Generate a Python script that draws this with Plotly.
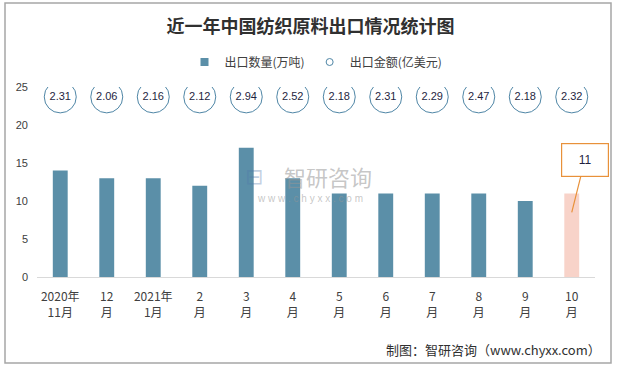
import plotly.graph_objects as go

categories = ["2020年<br>11月", "12<br>月", "2021年<br>1月", "2<br>月", "3<br>月", "4<br>月",
              "5<br>月", "6<br>月", "7<br>月", "8<br>月", "9<br>月", "10<br>月"]
quantity = [14, 13, 13, 12, 17, 13, 11, 11, 11, 11, 10, 11]
amount = [2.31, 2.06, 2.16, 2.12, 2.94, 2.52, 2.18, 2.31, 2.29, 2.47, 2.18, 2.32]
y_ticks = [0, 5, 10, 15, 20, 25]

BAR = "#5B8FA8"
HIGHLIGHT = "#F8D3C9"
CIRCLE = "#4F86A6"
FONT = "Noto Sans CJK SC"

bar_colors = [BAR] * (len(quantity) - 1) + [HIGHLIGHT]
label_row = [23.7] * len(amount)

fig = go.Figure()
fig.add_trace(go.Bar(
    x=categories, y=quantity, name="出口数量(万吨)", showlegend=False,
    marker=dict(color=bar_colors, line=dict(width=0)),
))
fig.add_trace(go.Scatter(
    x=categories, y=label_row, name="出口金额(亿美元)", mode="markers+text", showlegend=False,
    text=[f"{v:.2f}" for v in amount], textposition="middle center",
    textfont=dict(size=11, color="#1F1F3F", family="Liberation Sans"),
    marker=dict(symbol="circle", size=32, color="rgba(255,255,255,0)",
                line=dict(color=CIRCLE, width=1)),
))
# legend proxies
fig.add_trace(go.Scatter(x=[None], y=[None], mode="markers", name="出口数量(万吨)",
                         marker=dict(symbol="square", size=8, color=BAR)))
fig.add_trace(go.Scatter(x=[None], y=[None], mode="markers", name="出口金额(亿美元)",
                         marker=dict(symbol="circle-open", size=7, color=CIRCLE, line=dict(width=1))))

fig.update_layout(
    width=621, height=368,
    margin=dict(l=37, r=26, t=87, b=91, autoexpand=False),
    paper_bgcolor="white", plot_bgcolor="white",
    bargap=0.68,
    font=dict(family=FONT, color="#404040", size=12),
    title=dict(text="<b>近一年中国纺织原料出口情况统计图</b>", x=0.5, xanchor="center",
               y=1 - 27 / 368, yanchor="middle", yref="container",
               font=dict(size=18, color="#303030", family=FONT)),
    legend=dict(orientation="h", x=0.5, xanchor="center", y=(277 - 62) / 190, yref="paper",
                yanchor="middle", font=dict(size=12, color="#404040"),
                itemwidth=30, traceorder="normal", bgcolor="rgba(0,0,0,0)"),
    showlegend=True,
    xaxis=dict(showline=True, linecolor="#D9D9D9", linewidth=1, ticks="",
               range=[-0.5, len(categories) - 0.5], autorange=False,
               tickfont=dict(size=12, color="#404040", family=FONT), showgrid=False,
               ticklabelstandoff=9),
    yaxis=dict(range=[0, 25], autorange=False, tickvals=y_ticks, showgrid=False, zeroline=False,
               showline=False, tickfont=dict(size=11, color="#404040", family="Liberation Sans"),
               ticklabelstandoff=8),
)

# outer border
fig.add_shape(type="rect", xref="paper", yref="paper",
              x0=(5 - 37) / 558, x1=(611 - 37) / 558,
              y0=(277 - 363) / 190, y1=(277 - 3) / 190,
              line=dict(color="#A6A6A6", width=1.5), fillcolor="rgba(0,0,0,0)", layer="below")

# callout for the last bar
fig.add_annotation(x=categories[-1], y=quantity[-1] - 2.5, text="11",
                   showarrow=True, arrowhead=0, arrowcolor="#E8913A", arrowwidth=1.2,
                   ax=13, ay=-52, bordercolor="#E8913A", borderwidth=1.2, bgcolor="white",
                   width=44, height=30, font=dict(size=12, color="#1F1F3F", family="Liberation Sans"))

# watermark
fig.add_annotation(xref="paper", yref="paper", x=(328 - 37) / 558, y=(277 - 176) / 190, text="智研咨询",
                   showarrow=False, font=dict(size=22, color="rgba(150,150,150,0.55)", family=FONT))
fig.add_annotation(xref="paper", yref="paper", x=(310 - 37) / 558, y=(277 - 198) / 190,
                   text="w w w . c h y x x . c o m",
                   showarrow=False, font=dict(size=10, color="rgba(150,150,150,0.55)", family="Liberation Sans"))
fig.add_annotation(xref="paper", yref="paper", x=(254 - 37) / 558, y=(277 - 176) / 190, text="⊟",
                   showarrow=False, font=dict(size=22, color="rgba(80,120,170,0.35)", family="DejaVu Sans"))

# footer
fig.add_annotation(xref="paper", yref="paper", x=(603 - 37) / 558, y=(277 - 349) / 190,
                   xanchor="right", yanchor="middle", text="制图：智研咨询（www.chyxx.com）",
                   showarrow=False, font=dict(size=13, color="#303030", family=FONT))

fig.write_html("out.html", config={"displayModeBar": False},
               post_script="document.body.style.margin='0';")
